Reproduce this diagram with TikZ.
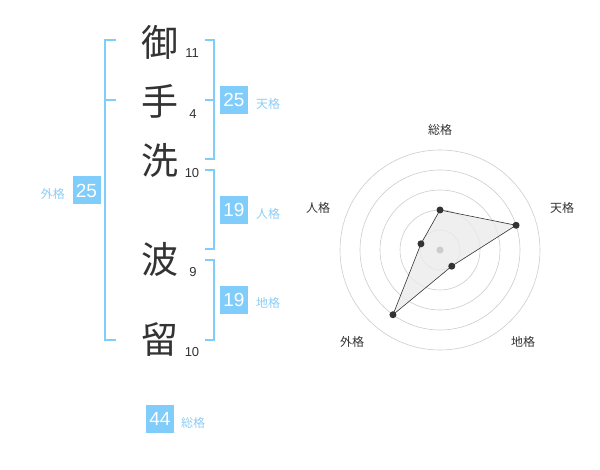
\documentclass[tikz,border=0pt]{standalone}
\usepackage{fontspec}
\setmainfont{Liberation Sans}
\newfontfamily\jp{Noto Sans CJK JP}
\definecolor{bl}{RGB}{128,204,250}
\definecolor{bltext}{RGB}{140,205,245}
\definecolor{dk}{RGB}{51,51,51}
\definecolor{ring}{RGB}{204,204,204}
\begin{document}
\begin{tikzpicture}[x=1pt,y=-1pt,
  kanji/.style={font=\jp\fontsize{37}{37}\selectfont,text=dk,inner sep=0pt},
  strokes/.style={font=\fontsize{13}{13}\selectfont,text=dk,inner sep=0pt},
  valbox/.style={fill=bl,text=white,minimum width=28pt,minimum height=28pt,inner sep=0pt,font=\fontsize{19}{19}\selectfont},
  kaku/.style={font=\jp\fontsize{12}{12}\selectfont,text=bltext,inner sep=0pt},
  brk/.style={draw=bl,line width=2pt},
  rlabel/.style={font=\jp\fontsize{12}{12}\selectfont,text=dk,inner sep=0pt},
  dot/.style={circle,fill=dk,inner sep=0pt,minimum size=7pt}]
\useasboundingbox (0,0) rectangle (600,470);
% kanji
\node[kanji] (k1) at (160,42) {御};
\node[kanji] (k2) at (160,101) {手};
\node[kanji] (k3) at (160,160) {洗};
\node[kanji] (k4) at (160,259) {波};
\node[kanji] (k5) at (160,339) {留};
\node[strokes] (s1) at (192,53) {11};
\node[strokes] (s2) at (193,114) {4};
\node[strokes] (s3) at (192,173) {10};
\node[strokes] (s4) at (193,272) {9};
\node[strokes] (s5) at (192,352) {10};
% brackets
\coordinate (la) at (116,40);
\coordinate (lb) at (105,40);
\coordinate (lc) at (105,340);
\coordinate (ld) at (116,340);
\coordinate (lm1) at (105,100);
\coordinate (lm2) at (116,100);
\draw[brk] (la) -- (lb) -- (lc) -- (ld);
\draw[brk] (lm1) -- (lm2);
\coordinate (t1) at (205,40);
\coordinate (t2) at (214,40);
\coordinate (t3) at (214,159);
\coordinate (t4) at (205,159);
\coordinate (tm1) at (205,100);
\coordinate (tm2) at (214,100);
\draw[brk] (t1) -- (t2) -- (t3) -- (t4);
\draw[brk] (tm1) -- (tm2);
\coordinate (j1) at (205,170);
\coordinate (j2) at (214,170);
\coordinate (j3) at (214,249);
\coordinate (j4) at (205,249);
\draw[brk] (j1) -- (j2) -- (j3) -- (j4);
\coordinate (c1) at (205,260);
\coordinate (c2) at (214,260);
\coordinate (c3) at (214,340);
\coordinate (c4) at (205,340);
\draw[brk] (c1) -- (c2) -- (c3) -- (c4);
% value boxes
\node[valbox] (ten) at (234,100) {25};
\node[kaku,anchor=west] (tenl) at (256,104) {天格};
\node[valbox] (jin) at (234,210) {19};
\node[kaku,anchor=west] (jinl) at (256,214) {人格};
\node[valbox] (chi) at (234,300) {19};
\node[kaku,anchor=west] (chil) at (256,303) {地格};
\node[valbox] (gai) at (86.5,190.5) {25};
\node[kaku,anchor=east] (gail) at (65,194) {外格};
\node[valbox] (sou) at (160,419) {44};
\node[kaku,anchor=west] (soul) at (181,423) {総格};
% radar
\begin{scope}[shift={(440,250)},x=1pt,y=1pt]
  \foreach \r in {20,40,60,80,100} \draw[ring,line width=0.6pt] (0,0) circle (\r);
  \coordinate (p1) at (90:40);
  \coordinate (p2) at (18:80);
  \coordinate (p3) at (-54:20);
  \coordinate (p4) at (-126:80);
  \coordinate (p5) at (162:20);
  \fill[black!8,opacity=0.8] (p1) -- (p2) -- (p3) -- (p4) -- (p5) -- cycle;
  \draw[dk,line width=0.6pt] (p1) -- (p2) -- (p3) -- (p4) -- (p5) -- cycle;
  \fill[ring] (0,0) circle (3.5);
  \foreach \i in {1,...,5} \node[dot] (d\i) at (p\i) {};
\end{scope}
\node[rlabel] (r1) at (440,130) {総格};
\node[rlabel] (r2) at (562,208) {天格};
\node[rlabel] (r3) at (523,342) {地格};
\node[rlabel] (r4) at (352,342) {外格};
\node[rlabel] (r5) at (318,208) {人格};
\end{tikzpicture}
\end{document}
